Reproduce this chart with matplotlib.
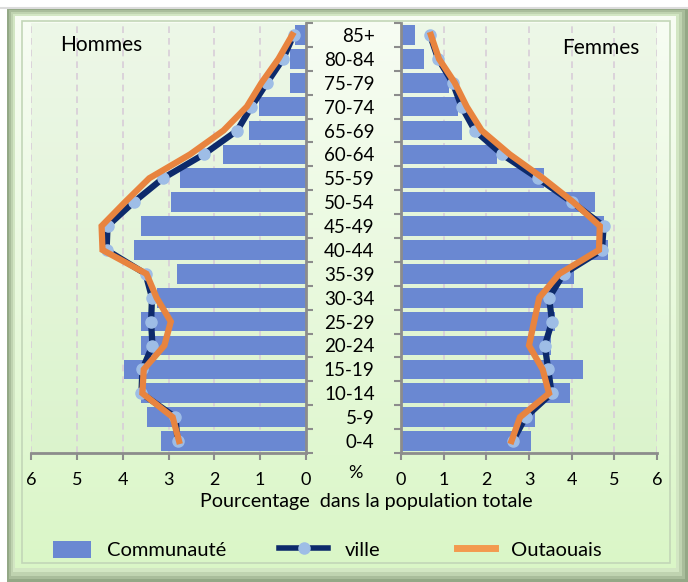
import numpy as np
import matplotlib
matplotlib.use("Agg")
import matplotlib.pyplot as plt
from matplotlib.patches import Rectangle, Patch
from matplotlib.lines import Line2D

plt.rcParams['font.family'] = ['Lato', 'DejaVu Sans']

# ---------------- data (bottom to top) ----------------
ages = ['0-4', '5-9', '10-14', '15-19', '20-24', '25-29', '30-34', '35-39', '40-44',
        '45-49', '50-54', '55-59', '60-64', '65-69', '70-74', '75-79', '80-84', '85+']
men_comm = [3.17, 3.48, 3.61, 3.97, 3.61, 3.61, 3.25, 2.82, 3.75, 3.60, 2.95, 2.74,
            1.82, 1.24, 1.03, 0.36, 0.36, 0.23]
men_ville = [2.80, 2.85, 3.59, 3.57, 3.35, 3.38, 3.36, 3.50, 4.35, 4.33, 3.76, 3.12,
             2.23, 1.50, 1.19, 0.85, 0.50, 0.27]
men_out = [2.77, 2.91, 3.57, 3.54, 3.09, 2.95, 3.26, 3.48, 4.44, 4.46, 3.95, 3.42,
           2.53, 1.80, 1.29, 0.97, 0.60, 0.30]
women_comm = [3.04, 3.15, 3.95, 4.26, 3.52, 3.62, 4.26, 4.05, 4.86, 4.75, 4.54, 3.36,
              2.24, 1.44, 1.34, 1.12, 0.54, 0.33]
women_ville = [2.62, 2.92, 3.53, 3.45, 3.37, 3.54, 3.47, 3.81, 4.71, 4.75, 4.01, 3.21,
               2.37, 1.73, 1.42, 1.21, 0.87, 0.68]
women_out = [2.59, 2.79, 3.47, 3.32, 3.00, 3.12, 3.24, 3.71, 4.64, 4.66, 4.04, 3.33,
             2.55, 1.89, 1.54, 1.26, 0.89, 0.70]
xticks = [0, 1, 2, 3, 4, 5, 6]
series_names = ['Communauté', 'ville', 'Outaouais']

BAR = '#6a88d2'
NAVY = '#0d2a6b'
MARK = '#9ebde6'
ORANGE = '#e8843f'
SPINE = '#8c8c8c'
GRID = '#d8cdd8'

W, H = 688, 582
fig = plt.figure(figsize=(W / 100, H / 100), dpi=100)
fig.patch.set_facecolor('white')

# ---------------- background frame ----------------
bg = fig.add_axes([0, 0, 1, 1])
bg.set_xlim(0, W)
bg.set_ylim(H, 0)
bg.axis('off')
bevels = [((7, 8, 688, 582), '#93a886'), ((9, 10, 685, 579), '#a9bd9b'),
          ((11, 12, 682, 576), '#bfd3b0'), ((13, 14, 679, 572), '#d2e6c3')]
for (x0, y0, x1, y1), c in bevels:
    bg.add_patch(Rectangle((x0, y0), x1 - x0, y1 - y0, color=c, lw=0))
grad = np.linspace(0, 1, 256)[:, None]
top = np.array([0.97, 0.99, 0.955])
bot = np.array([0.855, 0.965, 0.78])
img = top[None, None, :] * (1 - grad[..., None]) + bot[None, None, :] * grad[..., None]
img = np.repeat(img, 2, axis=1)
bg.imshow(img, extent=(15, 676, 568, 16), aspect='auto', zorder=1)
bg.add_patch(Rectangle((22, 21), 648, 542, fill=False, ec='#c3d6b8', lw=1.2, zorder=2))
bg.add_patch(Rectangle((0, 0), W, 8, color='white', lw=0, zorder=3))
bg.plot([0, 688], [8, 8], color='#dcdcdc', lw=1.5, zorder=4)

# ---------------- pyramid axes ----------------
def fx(px):
    return px / W

def fy(py):
    return 1 - py / H

ax_top, ax_bot = 23, 453
axL = fig.add_axes([fx(31), fy(ax_bot), fx(306) - fx(31), fy(ax_top) - fy(ax_bot)])
axR = fig.add_axes([fx(401), fy(ax_bot), fx(657) - fx(401), fy(ax_top) - fy(ax_bot)])

y = np.arange(len(ages))
for ax, comm, ville, out in [(axL, men_comm, men_ville, men_out),
                             (axR, women_comm, women_ville, women_out)]:
    ax.set_facecolor((0.80, 0.90, 0.76, 0.22))
    ax.barh(y, comm, height=0.82, color=BAR, zorder=2)
    ax.plot(ville, y, color=NAVY, lw=4.5, marker='o', ms=8, mfc=MARK, mec=MARK, zorder=3,
            solid_joinstyle='round')
    ax.plot(out, y, color=ORANGE, lw=4.5, zorder=4, solid_joinstyle='miter')
    ax.set_ylim(-0.5, len(ages) - 0.5)
    ax.set_xticks(xticks)
    ax.set_xticklabels([str(t) for t in xticks], fontsize=13)
    for t in xticks[1:]:
        ax.axvline(t, color=GRID, lw=1.2, ls=(0, (4, 3)), zorder=1)
    for s in ['top', 'left', 'right', 'bottom']:
        ax.spines[s].set_visible(False)
    ax.spines['bottom'].set_visible(True)
    ax.spines['bottom'].set_color(SPINE)
    ax.spines['bottom'].set_linewidth(2)
    ax.tick_params(axis='x', length=5, width=1.5, color=SPINE, pad=9)
    ax.set_yticks(y)
    ax.set_yticks(np.arange(-0.5, len(ages), 1), minor=True)

axL.set_xlim(6, 0)
axR.set_xlim(0, 6)

axL.spines['right'].set_visible(True)
axL.spines['right'].set_color(SPINE)
axL.spines['right'].set_linewidth(2)
axL.yaxis.tick_right()
axL.tick_params(axis='y', which='major', length=0, labelright=False, labelleft=False)
axL.tick_params(axis='y', which='minor', length=5, width=1.5, color=SPINE)

axR.spines['left'].set_visible(True)
axR.spines['left'].set_color(SPINE)
axR.spines['left'].set_linewidth(2)
axR.set_yticklabels(ages, fontsize=13.5)
axR.tick_params(axis='y', which='major', length=0, pad=19)
axR.tick_params(axis='y', which='minor', length=5, width=1.5, color=SPINE)
for lab in axR.get_yticklabels():
    lab.set_horizontalalignment('right')

# texts
fig.text(fx(101), fy(45), 'Hommes', fontsize=15, ha='center', va='center')
fig.text(fx(601), fy(48), 'Femmes', fontsize=15, ha='center', va='center')
fig.text(fx(355), fy(473), '%', fontsize=13, ha='center', va='center')
fig.text(fx(366), fy(501), 'Pourcentage  dans la population totale', fontsize=14.2,
         ha='center', va='center')

# legend (one entry per block, placed like the reference)
handles = [Patch(facecolor=BAR, edgecolor='none'),
           Line2D([], [], color=NAVY, lw=4, marker='o', ms=8, mfc=MARK, mec=MARK),
           Line2D([], [], color='#f39a4f', lw=5)]
starts = [53, 279, 457]
hlens = [1.9, 2.45, 1.9]
for h, name, x0, hl in zip(handles, series_names, starts, hlens):
    fig.legend([h], [name], loc='center left', bbox_to_anchor=(fx(x0), fy(550)),
               frameon=False, fontsize=14.5, handlelength=hl, handletextpad=0.8,
               borderpad=0, borderaxespad=0, handleheight=0.9)

fig.savefig('out.png', dpi=100)
